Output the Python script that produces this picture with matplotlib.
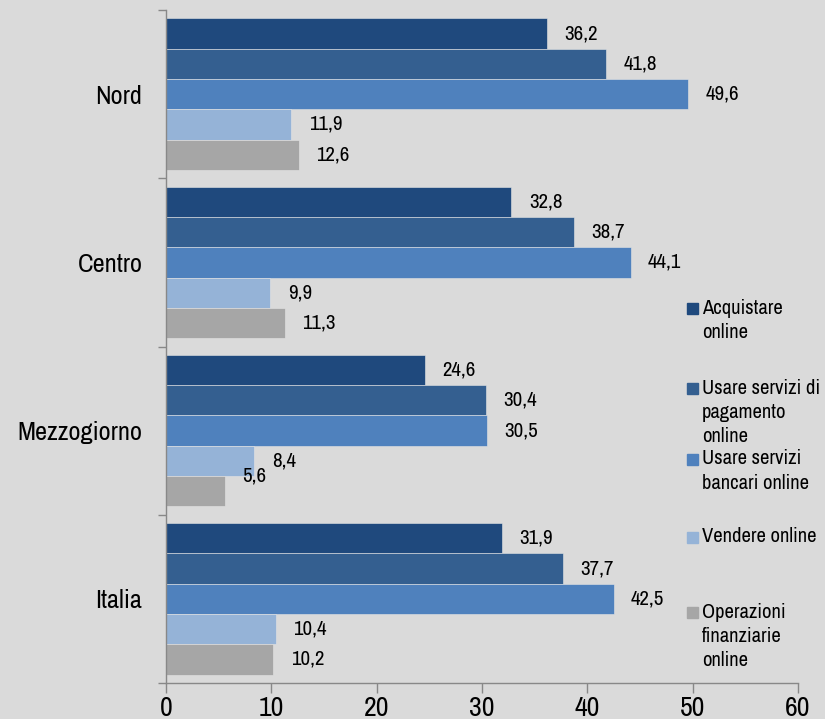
import matplotlib
matplotlib.use("Agg")
import matplotlib.pyplot as plt
from matplotlib.patches import Rectangle
from matplotlib import font_manager
import numpy as np

categories = ["Nord", "Centro", "Mezzogiorno", "Italia"]
series_names = ["Acquistare\nonline", "Usare servizi di\npagamento\nonline",
                "Usare servizi\nbancari online", "Vendere online",
                "Operazioni\nfinanziarie\nonline"]
acquistare = [36.2, 32.8, 24.6, 31.9]
pagamento = [41.8, 38.7, 30.4, 37.7]
bancari = [49.6, 44.1, 30.5, 42.5]
vendere = [11.9, 9.9, 8.4, 10.4]
finanziarie = [12.6, 11.3, 5.6, 10.2]
x_ticks = [0, 10, 20, 30, 40, 50, 60]

series = [acquistare, pagamento, bancari, vendere, finanziarie]
colors = ["#1F497D", "#345F90", "#4F81BD", "#95B3D7", "#A6A6A6"]

avail = {f.name for f in font_manager.fontManager.ttflist}
fam = [f for f in ["Liberation Sans Narrow", "Archivo Narrow", "Roboto Condensed",
                   "DejaVu Sans"] if f in avail]
plt.rcParams['font.family'] = fam

bg = "#DADADA"
fig = plt.figure(figsize=(8.25, 7.19), dpi=100, facecolor=bg)
ax = fig.add_axes([166/825, 1-683/719, 632/825, 673/719])
ax.set_facecolor(bg)

bh = 0.18
yc = np.arange(len(categories))
for j, (vals, col) in enumerate(zip(series, colors)):
    ypos = yc - 0.36 + bh * j
    ax.barh(ypos, vals, height=bh, color=col, edgecolor="#E4E4E4", linewidth=0.4)
    for i, (y, v) in enumerate(zip(ypos, vals)):
        dy = 0
        if categories[i] == "Mezzogiorno" and j == 4:
            dy = 11
        ax.annotate(f"{v:.1f}".replace(".", ","), xy=(v, y), xytext=(12.5, dy),
                    textcoords="offset points", ha="left", va="center",
                    fontsize=15, color="black")

ax.set_xlim(0, 60)
ax.set_ylim(len(categories) - 0.5, -0.5)
ax.set_xticks(x_ticks)
ax.set_xticklabels([str(t) for t in x_ticks], fontsize=20)
ax.set_yticks(yc)
ax.set_yticklabels(categories, fontsize=19)
ax.set_yticks(np.arange(len(categories) + 1) - 0.5, minor=True)
ax.tick_params(axis="y", which="major", length=0, pad=17)
ax.tick_params(axis="y", which="minor", length=6, color="#888888", width=1)
ax.tick_params(axis="x", which="major", length=7, color="#888888", width=1, pad=2)
for s in ["top", "right"]:
    ax.spines[s].set_visible(False)
for s in ["left", "bottom"]:
    ax.spines[s].set_color("#888888")
    ax.spines[s].set_linewidth(1)

# legend (manually positioned, Excel-like)
first_centers = [308, 388, 459, 537, 612]
line_step = 24.5
W, H = 825, 719
for name, col, yc_px in zip(series_names, colors, first_centers):
    fig.patches.append(Rectangle((687/W, 1-(yc_px+5.5)/H), 11/W, 11/H,
                                 transform=fig.transFigure, color=col))
    for k, line in enumerate(name.split("\n")):
        fig.text(702/W, 1-(yc_px + k*line_step)/H, line, ha="left", va="center",
                 fontsize=14.8, color="black")

fig.savefig("out.png", dpi=100, facecolor=bg)
